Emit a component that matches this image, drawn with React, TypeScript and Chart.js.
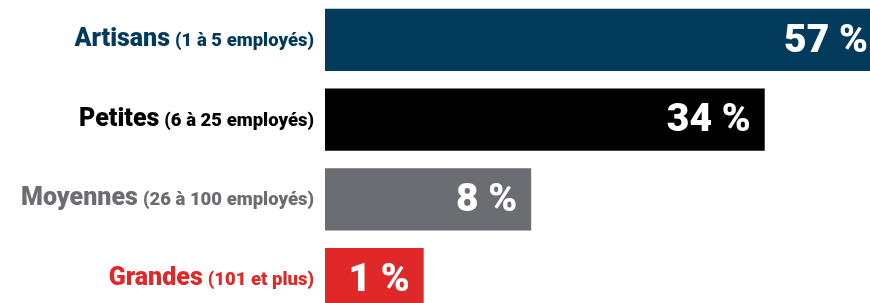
import React, { useEffect, useRef } from "react";
import { Chart, registerables } from "chart.js";

Chart.register(...registerables);

// Categories (main name + employee range)
const categoryNames = ["Artisans", "Petites", "Moyennes", "Grandes"];
const categoryRanges = ["(1 à 5 employés)", "(6 à 25 employés)", "(26 à 100 employés)", "(101 et plus)"];
// Printed shares (%)
const shares = [57, 34, 8, 1];
// Bar lengths as drawn in the picture (bars are not to scale with the printed shares)
const barLengths = [57, 45.0, 21.1, 10.1];
const barColors = ["#023A5C", "#000000", "#6C6D72", "#E02828"];
const labelColors = ["#023A5C", "#000000", "#6C6D72", "#E02828"];

const FONT = "Roboto, 'Noto Sans', sans-serif";

const labelPlugin = {
  id: "customLabels",
  afterDatasetsDraw(chart: any) {
    const ctx = chart.ctx as CanvasRenderingContext2D;
    const meta = chart.getDatasetMeta(0);
    const area = chart.chartArea;
    ctx.save();
    meta.data.forEach((bar: any, i: number) => {
      const y = bar.y;
      // value label inside bar
      ctx.font = `900 39px ${FONT}`;
      ctx.fillStyle = "#ffffff";
      ctx.textAlign = "right";
      ctx.textBaseline = "middle";
      ctx.fillText(`${shares[i]} %`, bar.x - 14, y + 2);
      // category label (two fonts)
      const right = area.left - 11;
      ctx.textBaseline = "alphabetic";
      ctx.fillStyle = labelColors[i];
      ctx.font = `900 18.5px ${FONT}`;
      const sub = categoryRanges[i];
      const subW = ctx.measureText(sub).width;
      ctx.fillText(sub, right, y + 6);
      ctx.font = `900 25px ${FONT}`;
      ctx.fillText(categoryNames[i], right - subW - 5, y + 6);
    });
    ctx.restore();
  },
};

export default function App() {
  const ref = useRef<HTMLCanvasElement | null>(null);
  useEffect(() => {
    document.documentElement.style.overflow = "hidden";
    document.body.style.margin = "0";
    document.body.style.overflow = "hidden";
    const canvas = ref.current;
    if (!canvas) return;
    const chart = new Chart(canvas, {
      type: "bar",
      data: {
        labels: categoryNames,
        datasets: [
          {
            data: barLengths,
            backgroundColor: barColors,
            borderWidth: 0,
            barPercentage: 0.778,
            categoryPercentage: 1,
          },
        ],
      },
      options: {
        indexAxis: "y",
        responsive: false,
        animation: false,
        layout: { padding: { left: 325, right: 3, top: 0, bottom: 0 } },
        plugins: { legend: { display: false }, tooltip: { enabled: false } },
        scales: {
          x: { display: false, min: 0, max: 57 },
          y: { display: false },
        },
      },
      plugins: [labelPlugin],
    });
    return () => chart.destroy();
  }, []);
  return (
    <div style={{ width: 885, height: 319, position: "relative" }}>
      <canvas ref={ref} width={885} height={319} style={{ display: "block" }} />
    </div>
  );
}
